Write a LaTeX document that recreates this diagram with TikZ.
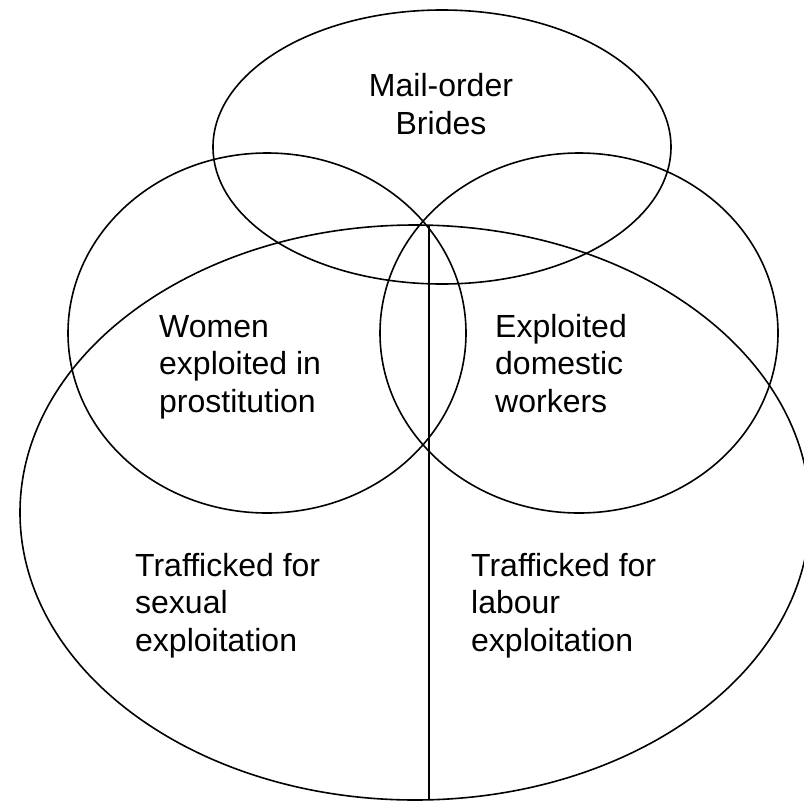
\documentclass[tikz,border=0pt]{standalone}
\usepackage{fontspec}
\setmainfont{Liberation Sans}
\begin{document}
\begin{tikzpicture}[x=1pt,y=-1pt,
  setline/.style={draw=black, line width=1.6pt},
  lbl/.style={font=\fontsize{32}{37.5}\selectfont, inner sep=0pt, text=black},
  lblL/.style={lbl, align=left, anchor=base west},
  lblC/.style={lbl, align=center, anchor=base}]
\useasboundingbox (0,0) rectangle (804,801);
\clip (0,0) rectangle (804,801);
% sets
\draw[setline] (442,147) ellipse [x radius=229, y radius=137];
\draw[setline] (267,333) ellipse [x radius=199, y radius=180];
\draw[setline] (579,333) ellipse [x radius=199, y radius=180];
\draw[setline] (415,512.5) ellipse [x radius=395, y radius=287.5];
% divider
\coordinate (divtop) at (429,225.5);
\coordinate (divbot) at (429,800);
\draw[setline] (divtop) -- (divbot);
% labels (anchor = baseline of last line)
\node[lblC] (brides) at (441,134) {Mail-order\\Brides};
\node[lblL] (prost) at (159,412) {Women\\exploited in\\prostitution};
\node[lblL] (domestic) at (495,412) {Exploited\\domestic\\workers};
\node[lblL] (sexual) at (135,651) {Trafficked for\\sexual\\exploitation};
\node[lblL] (labour) at (471,651) {Trafficked for\\labour\\exploitation};
\end{tikzpicture}
\end{document}
